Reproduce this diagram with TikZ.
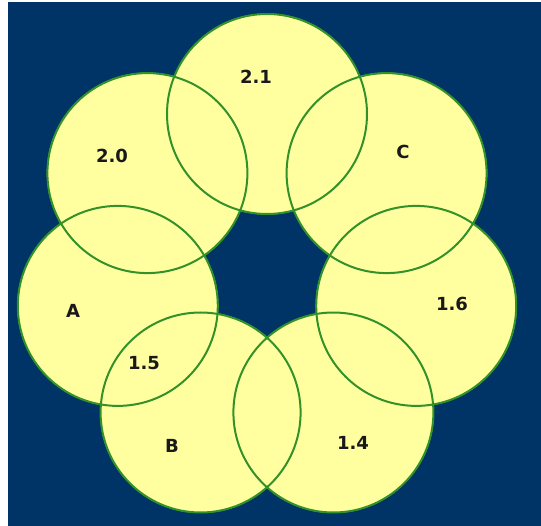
\documentclass[tikz,border=0pt]{standalone}
\usepackage{fontspec}
\setmainfont{DejaVu Sans}
\usepackage{tikz}
\usetikzlibrary{positioning}
\definecolor{navy}{RGB}{0,51,102}
\definecolor{paleyellow}{RGB}{255,255,160}
\definecolor{ringgreen}{RGB}{50,145,40}
\tikzset{
	ringfill/.style={circle, fill=paleyellow, minimum size=201pt, inner sep=0pt},
	ringline/.style={circle, draw=ringgreen, line width=2pt, minimum size=200pt, inner sep=0pt},
	ringlabel/.style={font=\fontsize{18}{18}\selectfont\bfseries, text=black!90},
}

\begin{document}
\begin{tikzpicture}[x=1pt, y=-1pt]
	\useasboundingbox (0,0) rectangle (541,526);
	\fill[white] (0,0) rectangle (541,526);
	\fill[navy] (8,2) rectangle (541,526);
	% the seven circles: fill first, then all outlines on top
	\foreach \i/\x/\y in {1/267/114, 2/386.6/173.1, 3/416.2/305.9, 4/333.4/412.5, 5/200.6/412.5, 6/117.8/305.9, 7/147.4/173.1}
		\node[ringfill] (c\i) at (\x,\y) {};
	\foreach \i in {1,...,7}
		\node[ringline] (o\i) at (c\i.center) {};
	% labels
	\node[ringlabel] (l21) at (256,77) {2.1};
	\node[ringlabel] (lc) at (403,152) {C};
	\node[ringlabel] (l16) at (452,304) {1.6};
	\node[ringlabel] (l14) at (353,443) {1.4};
	\node[ringlabel] (lb) at (172,446) {B};
	\node[ringlabel] (l15) at (144,363) {1.5};
	\node[ringlabel] (la) at (73,311) {A};
	\node[ringlabel] (l20) at (112,156) {2.0};
\end{tikzpicture}
\end{document}
